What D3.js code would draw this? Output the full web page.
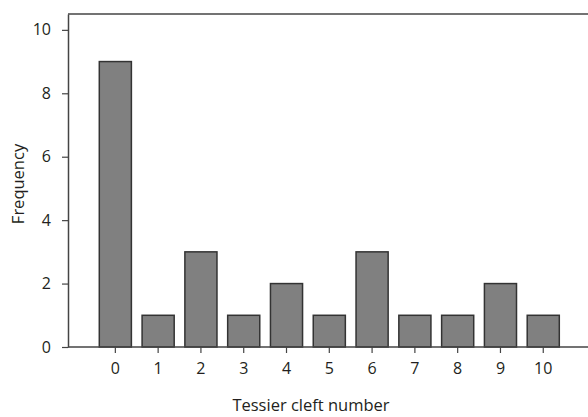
<!DOCTYPE html>
<html>
<head>
<meta charset="utf-8">
<script src="https://cdn.jsdelivr.net/npm/d3@7"></script>
<style>
  body { margin: 0; background: #fff; }
  text { font-family: "Open Sans", "Noto Sans", sans-serif; fill: #231f20; }
</style>
</head>
<body>
<svg id="chart" width="588" height="417"></svg>
<script>
// data
var clefts = ["0", "1", "2", "3", "4", "5", "6", "7", "8", "9", "10"];
var frequency = [9, 1, 3, 1, 2, 1, 3, 1, 1, 2, 1];
var yTicks = [0, 2, 4, 6, 8, 10];

var svg = d3.select("svg#chart"),
    margin = {top: 14, right: 0, bottom: 70, left: 68},
    width = +svg.attr("width") - margin.left - margin.right,
    height = +svg.attr("height") - margin.top - margin.bottom;

var g = svg.append("g")
  .attr("transform", "translate(" + margin.left + "," + margin.top + ")");

var x = d3.scaleBand()
  .domain(clefts)
  .range([31.3, 491.3])
  .paddingInner(0.25)
  .paddingOuter(0);

var y = d3.scaleLinear()
  .domain([0, 10.5])
  .range([height, 0]);

// frame: top and left lines
g.append("line")
  .attr("x1", 0).attr("x2", width)
  .attr("y1", 0).attr("y2", 0)
  .attr("stroke", "#444").attr("stroke-width", 1.5);

// bars
g.selectAll("rect.bar")
  .data(frequency)
  .enter().append("rect")
  .attr("class", "bar")
  .attr("x", function(d, i) { return x(clefts[i]); })
  .attr("y", function(d) { return y(d); })
  .attr("width", x.bandwidth())
  .attr("height", function(d) { return height - y(d); })
  .attr("fill", "#808080")
  .attr("stroke", "#333")
  .attr("stroke-width", 1.5);

// y axis
var yAxis = g.append("g")
  .call(d3.axisLeft(y).tickValues(yTicks).tickSize(6).tickSizeOuter(0));
yAxis.select(".domain").attr("stroke", "#444").attr("stroke-width", 1.5);
yAxis.selectAll(".tick line").attr("stroke", "#444").attr("stroke-width", 1.2);
yAxis.selectAll(".tick text")
  .attr("x", -17)
  .style("font-size", "16px");

// x axis
var xAxis = g.append("g")
  .attr("transform", "translate(0," + height + ")")
  .call(d3.axisBottom(x).tickSize(6).tickSizeOuter(0));
xAxis.select(".domain").remove();
xAxis.append("line")
  .attr("x1", 0).attr("x2", width)
  .attr("stroke", "#444").attr("stroke-width", 1.5);
xAxis.selectAll(".tick line").attr("stroke", "#444").attr("stroke-width", 1.2);
xAxis.selectAll(".tick text")
  .attr("y", 16)
  .style("font-size", "16px");

// axis titles
svg.append("text")
  .attr("x", 311)
  .attr("y", 411)
  .attr("text-anchor", "middle")
  .style("font-size", "16.5px")
  .text("Tessier cleft number");

svg.append("text")
  .attr("transform", "translate(24,184) rotate(-90)")
  .attr("text-anchor", "middle")
  .style("font-size", "16.5px")
  .text("Frequency");
</script>
</body>
</html>
